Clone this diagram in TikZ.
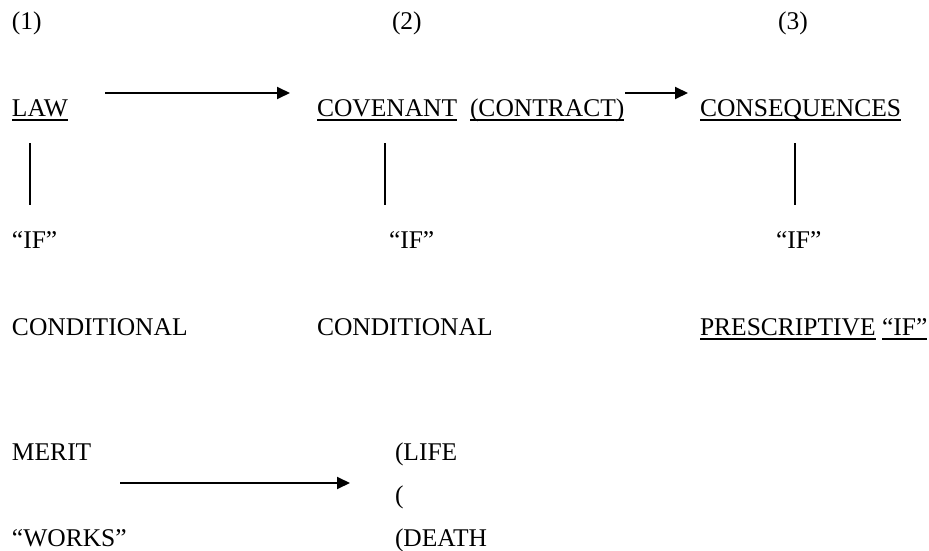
\documentclass[tikz,border=0pt]{standalone}
\usepackage{fontspec}
\setmainfont{Liberation Serif}
\usetikzlibrary{arrows.meta}
\begin{document}
\begin{tikzpicture}[x=1pt,y=-1pt,
  txt/.style={anchor=base west,inner sep=0pt,outer sep=0pt,font=\fontsize{25.5pt}{30pt}\selectfont},
  arr/.style={line width=1.9pt,-{Triangle[length=13pt,width=12pt]}},
  vline/.style={line width=1.2pt},
  uline/.style={line width=1.3pt}]
\useasboundingbox (0,0) rectangle (929,551);
% header
\node[txt] (n1) at (12,30) {(1)};
\node[txt] (n2) at (392,30) {(2)};
\node[txt] (n3) at (778,30) {(3)};
% row 2
\node[txt] (law) at (12,116) {LAW};
\node[txt] (cov) at (317,116) {COVENANT};
\node[txt] (con) at (470,116) {(CONTRACT)};
\node[txt] (csq) at (700,116) {CONSEQUENCES};
\foreach \n in {law,cov,con,csq}
  \draw[uline] ([yshift=-4pt]\n.base west) -- ([yshift=-4pt]\n.base east);
\coordinate (a1s) at (105,93);
\coordinate (a1e) at (290,93);
\coordinate (a2s) at (625,93);
\coordinate (a2e) at (688,93);
\draw[arr] (a1s) -- (a1e);
\draw[arr] (a2s) -- (a2e);
% IF row
\node[txt] (if1) at (12,248) {“IF”};
\node[txt] (if2) at (389,248) {“IF”};
\node[txt] (if3) at (776,248) {“IF”};
\coordinate (v1t) at (30,143);  \coordinate (v1b) at (30,205);
\coordinate (v2t) at (385,143); \coordinate (v2b) at (385,205);
\coordinate (v3t) at (795,143); \coordinate (v3b) at (795,205);
\draw[vline] (v1t) -- (v1b);
\draw[vline] (v2t) -- (v2b);
\draw[vline] (v3t) -- (v3b);
% conditional row
\node[txt] (c1) at (12,335) {CONDITIONAL};
\node[txt] (c2) at (317,335) {CONDITIONAL};
\node[txt] (pre) at (700,335) {PRESCRIPTIVE};
\node[txt,anchor=base west] (pif) at ([xshift=6.4pt]pre.base east) {“IF”};
\foreach \n in {pre,pif}
  \draw[uline] ([yshift=-4pt]\n.base west) -- ([yshift=-4pt]\n.base east);
% bottom
\node[txt] (mer) at (12,460) {MERIT};
\node[txt] (wor) at (12,546) {“WORKS”};
\node[txt] (life) at (395,460) {(LIFE};
\node[txt] (par) at (395,503) {(};
\node[txt] (dea) at (395,546) {(DEATH};
\coordinate (a3s) at (120,483);
\coordinate (a3e) at (350,483);
\draw[arr] (a3s) -- (a3e);
\end{tikzpicture}
\end{document}
